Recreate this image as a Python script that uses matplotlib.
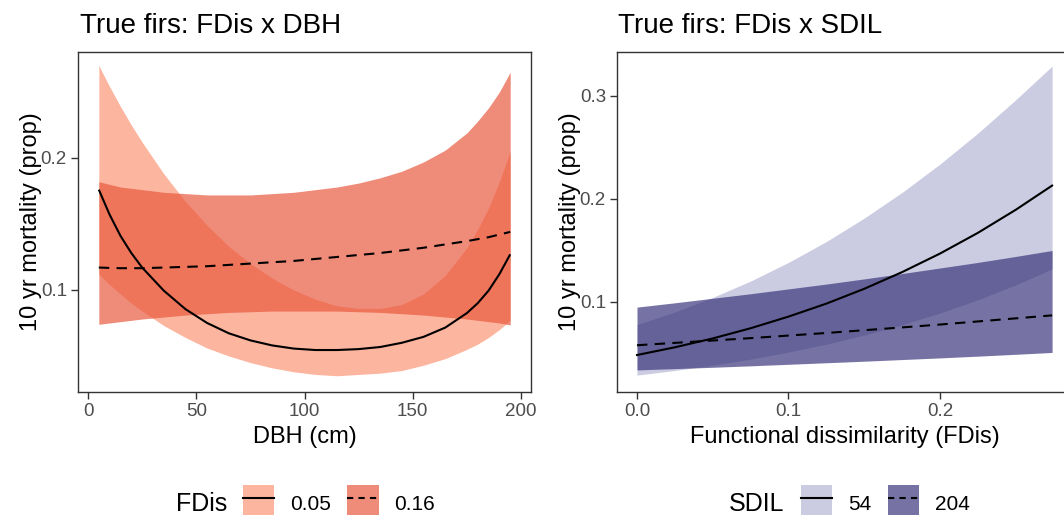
import matplotlib
matplotlib.use("Agg")
import matplotlib.pyplot as plt
from matplotlib.patches import Patch
from matplotlib.lines import Line2D
from matplotlib.legend_handler import HandlerTuple

plt.rcParams['font.family'] = ['Liberation Sans', 'DejaVu Sans']

# ---------------- data: left panel (FDis x DBH) ----------------
dbh = [5, 10, 15, 20, 25, 35, 45, 55, 65, 75, 85, 95, 105, 115, 125, 135, 145, 155, 165, 175, 180, 185, 190, 195]
fdis_levels = ["0.05", "0.16"]
fit_005 = [0.176, 0.157, 0.141, 0.128, 0.117, 0.0995, 0.0855, 0.075, 0.0672, 0.0618, 0.058, 0.0556,
           0.0545, 0.0545, 0.0552, 0.0568, 0.0600, 0.0645, 0.0715, 0.0825, 0.090, 0.0995, 0.112, 0.127]
lo_005 = [0.112, 0.104, 0.097, 0.090, 0.084, 0.073, 0.064, 0.056, 0.050, 0.045, 0.041, 0.038,
          0.036, 0.035, 0.036, 0.037, 0.039, 0.043, 0.048, 0.055, 0.059, 0.064, 0.070, 0.077]
hi_005 = [0.270, 0.254, 0.239, 0.225, 0.212, 0.188, 0.167, 0.149, 0.133, 0.120, 0.109, 0.100,
          0.093, 0.088, 0.086, 0.086, 0.089, 0.097, 0.111, 0.132, 0.146, 0.162, 0.182, 0.205]
fit_016 = [0.117, 0.1167, 0.1165, 0.1165, 0.1165, 0.117, 0.1175, 0.118, 0.119, 0.120, 0.121, 0.122,
           0.1235, 0.125, 0.1265, 0.128, 0.130, 0.132, 0.1345, 0.137, 0.1385, 0.140, 0.142, 0.144]
lo_016 = [0.074, 0.075, 0.076, 0.077, 0.078, 0.0795, 0.081, 0.082, 0.083, 0.0835, 0.084, 0.084,
          0.084, 0.084, 0.0835, 0.083, 0.082, 0.081, 0.0795, 0.078, 0.077, 0.076, 0.075, 0.0735]
hi_016 = [0.182, 0.180, 0.178, 0.177, 0.176, 0.174, 0.173, 0.172, 0.172, 0.172, 0.173, 0.174,
          0.176, 0.178, 0.181, 0.185, 0.190, 0.197, 0.206, 0.219, 0.228, 0.238, 0.250, 0.265]

# ---------------- data: right panel (FDis x SDIL) ----------------
fd = [0.0, 0.025, 0.05, 0.075, 0.1, 0.125, 0.15, 0.175, 0.2, 0.225, 0.25, 0.274]
sdil_levels = ["54", "204"]
fit_54 = [0.0485, 0.0560, 0.0646, 0.0745, 0.0858, 0.0984, 0.1128, 0.1290, 0.1470, 0.1671, 0.1895, 0.213]
lo_54 = [0.029, 0.0335, 0.0386, 0.0445, 0.0513, 0.0590, 0.0678, 0.0778, 0.0892, 0.1020, 0.1165, 0.132]
hi_54 = [0.078, 0.0903, 0.1044, 0.1203, 0.1384, 0.1587, 0.1814, 0.2064, 0.2339, 0.2639, 0.2963, 0.329]
fit_204 = [0.0580, 0.0603, 0.0626, 0.0649, 0.0674, 0.0699, 0.0726, 0.0753, 0.0781, 0.0811, 0.0841, 0.0870]
lo_204 = [0.0340, 0.0353, 0.0366, 0.0380, 0.0395, 0.0410, 0.0425, 0.0441, 0.0457, 0.0474, 0.0492, 0.0510]
hi_204 = [0.095, 0.0992, 0.1036, 0.1080, 0.1127, 0.1174, 0.1224, 0.1276, 0.1330, 0.1384, 0.1442, 0.150]

left_xticks = [0, 50, 100, 150, 200]
left_yticks = [0.1, 0.2]
right_xticks = [0.0, 0.1, 0.2]
right_yticks = [0.1, 0.2, 0.3]

# ---------------- styling ----------------
W, H = 1064, 515
ALPHA = 0.68
red_light, red_dark = '#FC9272', '#E8553A'
pur_light, pur_dark = '#B3B3D4', '#353179'
BORDER = '#333333'
TICKC = '#4D4D4D'
LW = 1.5
DASH = (5, 3.5)

fig = plt.figure(figsize=(W / 100, H / 100), dpi=100)
fig.patch.set_facecolor('white')

top_px, bot_px = 52, 392
axL = fig.add_axes([78 / W, 1 - bot_px / H, (531 - 78) / W, (bot_px - top_px) / H])
axR = fig.add_axes([617 / W, 1 - bot_px / H, (1073 - 617) / W, (bot_px - top_px) / H])


def style(ax):
    for s in ax.spines.values():
        s.set_color(BORDER)
        s.set_linewidth(1.0)
    ax.tick_params(axis='both', colors=BORDER, labelcolor=TICKC, labelsize=13.5,
                   length=5, width=1.0, pad=3)
    ax.set_facecolor('white')


# left panel
axL.fill_between(dbh, lo_005, hi_005, color=red_light, alpha=ALPHA, lw=0)
axL.fill_between(dbh, lo_016, hi_016, color=red_dark, alpha=ALPHA, lw=0)
axL.plot(dbh, fit_005, color='black', lw=LW, solid_capstyle='butt')
axL.plot(dbh, fit_016, color='black', lw=LW, dashes=DASH)
axL.set_xlim(-4.62, 204.6)
axL.set_ylim(0.0227, 0.2803)
axL.set_xticks(left_xticks)
axL.set_xticklabels([str(v) for v in left_xticks])
axL.set_yticks(left_yticks)
axL.set_yticklabels([f"{v:.1f}" for v in left_yticks])
axL.set_xlabel("DBH (cm)", fontsize=17, labelpad=4)
axL.set_ylabel("10 yr mortality (prop)", fontsize=17, labelpad=-1)
style(axL)

# right panel
axR.fill_between(fd, lo_54, hi_54, color=pur_light, alpha=ALPHA, lw=0)
axR.fill_between(fd, lo_204, hi_204, color=pur_dark, alpha=ALPHA, lw=0)
axR.plot(fd, fit_54, color='black', lw=LW)
axR.plot(fd, fit_204, color='black', lw=LW, dashes=DASH)
axR.set_xlim(-0.0132, 0.2878)
axR.set_ylim(0.0126, 0.3427)
axR.set_xticks(right_xticks)
axR.set_xticklabels([f"{v:.1f}" for v in right_xticks])
axR.set_yticks(right_yticks)
axR.set_yticklabels([f"{v:.1f}" for v in right_yticks])
axR.set_xlabel("Functional dissimilarity (FDis)", fontsize=17, labelpad=4)
axR.set_ylabel("10 yr mortality (prop)", fontsize=17, labelpad=-1)
style(axR)

# titles
fig.text(80 / W, 1 - 33 / H, "True firs: FDis x DBH", fontsize=20, va='baseline', ha='left')
fig.text(618 / W, 1 - 33 / H, "True firs: FDis x SDIL", fontsize=20, va='baseline', ha='left')


# legends
def make_legend(title, title_x, key_x, levels, cl, cd):
    h1 = (Patch(facecolor=cl, alpha=ALPHA, lw=0), Line2D([], [], color='black', lw=LW))
    h2 = (Patch(facecolor=cd, alpha=ALPHA, lw=0), Line2D([], [], color='black', lw=LW, dashes=(3, 2.5)))
    yc = 1 - 504 / H
    fig.text(title_x / W, yc, title, fontsize=18, va='center', ha='left')
    fig.legend([h1, h2], levels, handler_map={tuple: HandlerTuple(ndivide=1, pad=0)},
               loc='center left', bbox_to_anchor=(key_x / W, yc), ncol=2, frameon=False,
               fontsize=15, handlelength=1.5, handleheight=2.4, handletextpad=0.75,
               columnspacing=0.8, borderpad=0, borderaxespad=0)


make_legend("FDis", 176, 243, fdis_levels, red_light, red_dark)
make_legend("SDIL", 729, 801, sdil_levels, pur_light, pur_dark)

fig.savefig("out.png", dpi=100)
